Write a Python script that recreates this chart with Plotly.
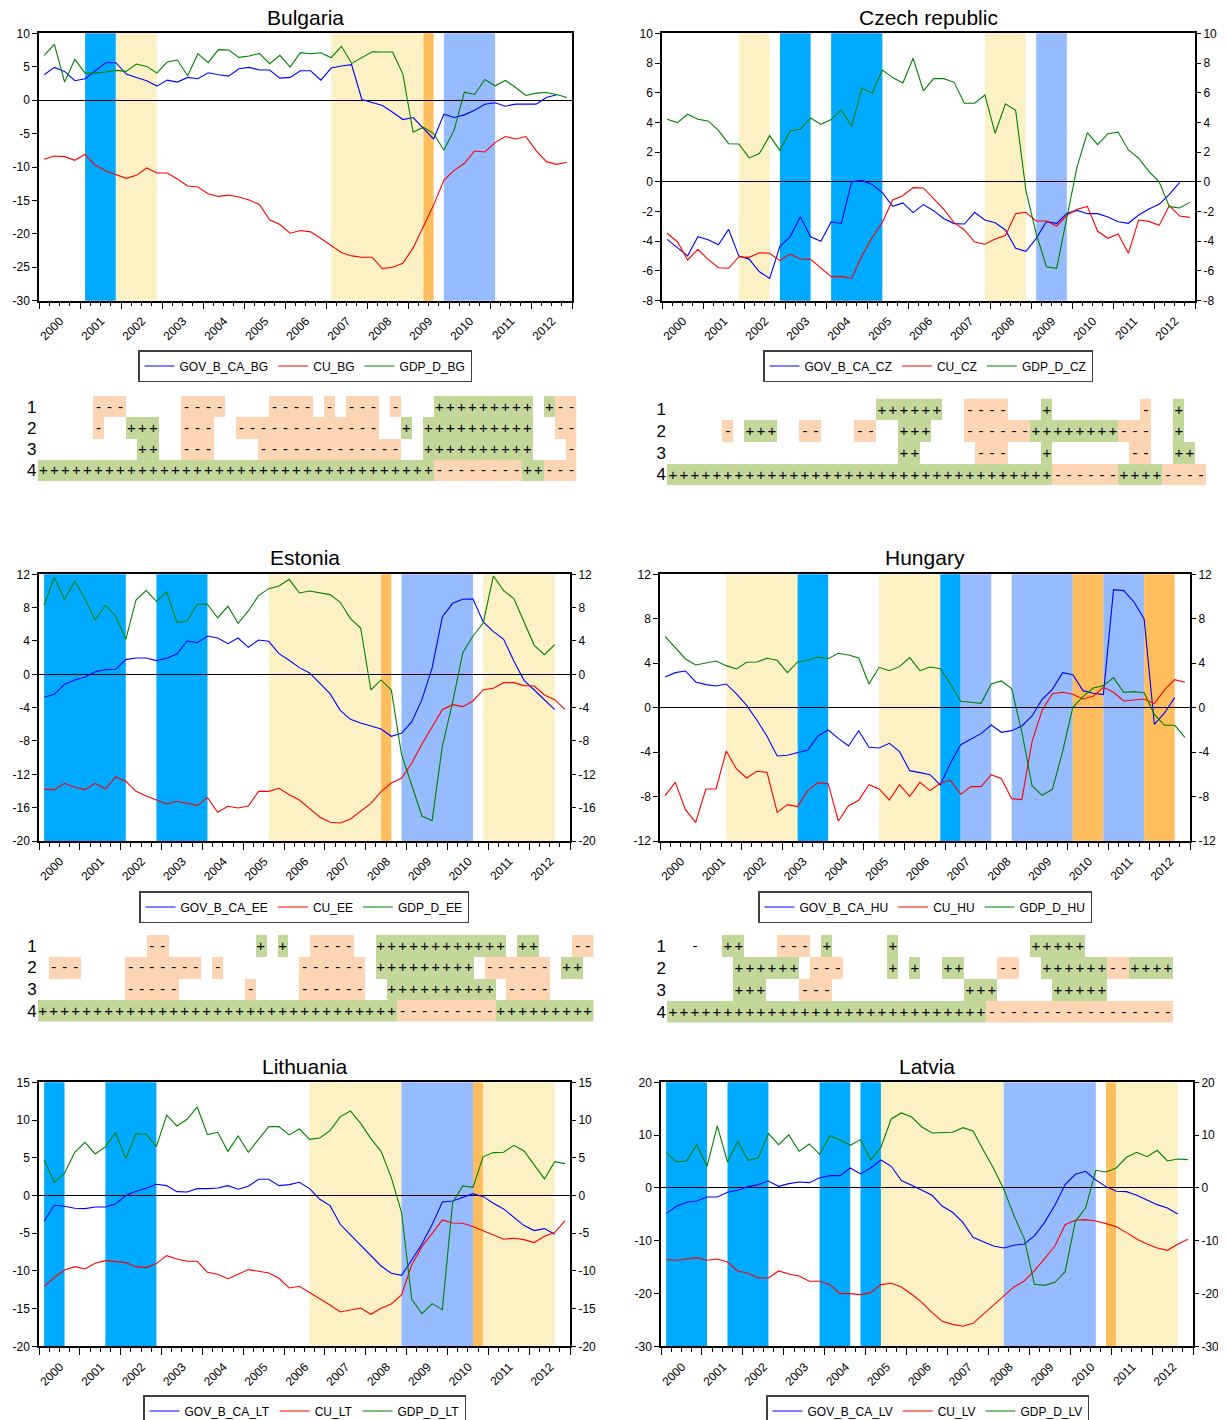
import plotly.graph_objects as go

W, H = 1226, 1420          # target picture size
OFF = 8                    # page body margin of the html page
FW, FH = W - OFF, H - OFF  # figure size so that the figure ends at the window edge
FONT = "Arial, Liberation Sans, sans-serif"

# ---------------- data: quarterly 2000Q1 .. 2012Q4 (52 obs) ----------------
OBS = list(range(52))
YEAR_LABELS = [str(y) for y in range(2000, 2013)] + [""]

GOV_B_CA_BG = [3.8, 4.9, 4.3, 2.9, 3.2, 4.4, 5.6, 5.6, 3.9, 3.4, 2.9, 2.1, 3.0, 2.7, 3.4, 3.2, 4.1, 3.8, 3.6, 4.7,
               4.9, 4.5, 4.5, 3.3, 3.4, 4.4, 4.4, 3.0, 4.8, 5.1, 5.3, 0.1, -0.3, -0.8, -1.8, -2.9, -2.6, -4.2, -5.8, -2.1,
               -2.6, -2.2, -1.5, -0.6, -0.4, -0.9, -0.6, -0.6, -0.6, 0.4, 0.8, None]
CU_BG = [-8.85, -8.35, -8.45, -9.0, -8.1, -9.75, -10.55, -11.15, -11.7, -11.25, -10.15, -10.9, -10.9, -11.8, -12.85,
         -13.0, -14.0, -14.4, -14.2, -14.5, -14.95, -15.6, -17.9, -18.6, -19.9, -19.5, -19.7, -20.7, -21.8, -22.8,
         -23.3, -23.5, -23.5, -25.2, -25.0, -24.4, -22.1, -18.9, -15.7, -12.0, -10.5, -9.45, -7.6, -7.75, -6.35,
         -5.45, -5.8, -5.45, -7.55, -9.2, -9.6, -9.3]
GDP_D_BG = [6.7, 8.35, 2.7, 6.1, 4.05, 4.05, 4.2, 4.45, 4.3, 5.4, 5.05, 4.05, 5.7, 6.0, 3.65, 6.95, 5.6, 7.55, 7.5, 6.4,
            6.6, 7.0, 5.45, 6.7, 4.95, 7.1, 6.95, 7.1, 6.35, 8.05, 5.5, 6.4, 7.25, 7.2, 7.2, 3.9, -4.8, -4.05, -5.0,
            -7.5, -4.45, 1.2, 0.85, 3.1, 2.15, 2.95, 1.9, 0.7, 1.05, 1.15, 0.85, 0.4]

GOV_B_CA_CZ = [-3.87, -4.4, -4.98, -3.69, -3.9, -4.23, -3.2, -5.0, -5.2, -6.05, -6.5, -4.34, -3.7, -2.35, -3.7, -4.0,
               -2.7, -2.8, 0.0, 0.1, -0.17, -0.73, -1.65, -1.42, -2.07, -1.53, -1.94, -2.48, -2.81, -2.84, -2.05,
               -2.57, -2.75, -3.24, -4.47, -4.68, -3.82, -2.68, -2.79, -2.12, -1.92, -2.14, -2.14, -2.37, -2.68, -2.79,
               -2.23, -1.83, -1.51, -0.84, -0.03, None]
CU_CZ = [-3.46, -4.03, -5.26, -4.54, -5.22, -5.78, -5.82, -5.04, -5.08, -4.77, -4.81, -5.3, -4.86, -5.19, -5.22, -5.8,
         -6.38, -6.36, -6.5, -4.99, -3.76, -2.72, -1.22, -0.93, -0.39, -0.41, -1.13, -1.85, -2.75, -3.24, -4.05, -4.2,
         -3.85, -3.62, -2.14, -2.05, -2.63, -2.63, -2.97, -2.25, -1.85, -1.65, -3.33, -3.8, -3.51, -4.81, -2.57,
         -2.66, -2.93, -1.6, -2.3, -2.39]
GDP_D_CZ = [4.21, 3.99, 4.55, 4.21, 4.1, 3.47, 2.57, 2.55, 1.61, 1.9, 3.11, 2.12, 3.42, 3.56, 4.3, 3.87, 4.19, 4.84,
            3.74, 6.32, 5.98, 7.53, 7.02, 6.66, 8.32, 6.12, 6.95, 6.95, 6.7, 5.29, 5.29, 5.85, 3.27, 5.26, 4.82, -0.57,
            -3.46, -5.71, -5.82, -2.52, 1.02, 3.31, 2.5, 3.24, 3.35, 2.15, 1.6, 0.71, 0.0, -1.67, -1.76, -1.38]

GOV_B_CA_EE = [-2.76, -2.4, -1.2, -0.68, -0.32, 0.32, 0.56, 0.6, 1.76, 1.96, 1.96, 1.64, 1.92, 2.44, 4.0, 3.8, 4.6,
               4.36, 3.68, 4.36, 3.24, 4.12, 3.96, 2.48, 1.68, 0.8, 0.16, -1.08, -2.32, -4.32, -5.4, -5.84, -6.2,
               -6.56, -7.44, -7.08, -5.72, -3.04, 0.76, 6.88, 8.52, 9.0, 9.04, 6.28, 5.12, 4.2, 1.6, -0.72, -1.88,
               -3.08, -4.24, None]
CU_EE = [-13.8, -13.84, -13.08, -13.56, -13.84, -13.08, -13.76, -12.32, -12.84, -14.04, -14.6, -15.04, -15.56, -15.24,
         -15.44, -15.72, -14.8, -16.56, -15.84, -16.04, -15.8, -14.04, -14.04, -13.68, -14.44, -15.08, -16.12, -17.12,
         -17.76, -17.84, -17.36, -16.44, -15.48, -14.08, -13.04, -12.48, -10.68, -8.36, -6.28, -4.24, -3.64, -3.88,
         -3.2, -1.84, -1.68, -1.0, -1.0, -1.36, -1.4, -2.48, -3.04, -4.2]
GDP_D_EE = [8.32, 11.6, 9.0, 11.16, 9.08, 6.52, 8.28, 7.0, 4.2, 8.92, 10.04, 8.76, 9.88, 6.24, 6.4, 8.4, 8.4, 6.76, 8.16,
            6.12, 7.6, 9.44, 10.28, 10.6, 11.4, 9.76, 10.0, 9.8, 9.56, 8.64, 6.68, 5.56, -1.88, -0.68, -1.88, -9.6,
            -13.24, -17.0, -17.56, -8.6, -3.4, 2.6, 4.6, 6.16, 11.8, 10.04, 9.08, 6.32, 3.48, 2.36, 3.56, None]

GOV_B_CA_HU = [2.76, 3.15, 3.3, 2.31, 2.07, 1.95, 2.13, 1.23, 0.21, -1.11, -2.58, -4.35, -4.29, -4.05, -3.81, -2.55,
               -2.01, -2.76, -3.45, -2.07, -3.57, -3.63, -3.21, -3.96, -5.67, -5.85, -6.03, -6.96, -5.01, -3.33, -2.82,
               -2.34, -1.56, -2.22, -2.07, -1.65, -0.75, 0.75, 1.65, 3.15, 2.97, 1.53, 1.29, 1.17, 10.62, 10.53, 9.51,
               7.98, -1.5, -0.48, 0.9, None]
CU_HU = [-7.92, -6.72, -9.18, -10.32, -7.32, -7.32, -3.9, -5.52, -6.33, -5.73, -5.82, -9.42, -8.73, -8.91, -7.47, -6.75,
         -6.84, -10.2, -8.82, -8.34, -6.93, -7.32, -8.31, -6.93, -7.98, -6.72, -7.47, -6.81, -6.54, -7.8, -7.11, -7.11,
         -6.03, -6.39, -8.19, -8.28, -3.06, -0.21, 1.26, 1.38, 1.2, 0.78, 1.02, 1.83, 1.38, 0.6, 0.69, 0.78, 0.36,
         1.59, 2.52, 2.28]
GDP_D_HU = [6.42, 5.43, 4.38, 3.84, 4.02, 4.2, 3.78, 3.48, 4.08, 4.11, 4.44, 4.26, 3.15, 4.11, 4.26, 4.56, 4.41, 4.89,
            4.74, 4.47, 2.13, 3.63, 3.33, 3.69, 4.5, 3.33, 3.66, 3.51, 2.13, 0.57, 0.48, 0.39, 2.13, 2.4, 1.71, -2.19,
            -7.02, -7.89, -7.35, -3.96, 0.03, 0.99, 1.77, 1.98, 2.7, 1.38, 1.44, 1.35, -0.6, -1.59, -1.59, -2.67]

GOV_B_CA_LT = [-3.38, -1.31, -1.44, -1.7, -1.75, -1.53, -1.53, -1.13, -0.02, 0.55, 0.95, 1.48, 1.3, 0.5, 0.46, 0.9, 0.9,
               0.99, 1.3, 0.82, 1.21, 2.14, 2.14, 1.3, 1.43, 1.74, 0.9, -0.51, -1.35, -3.82, -5.24, -6.65, -8.02,
               -9.35, -10.32, -10.59, -8.55, -6.43, -3.87, -0.86, -0.73, -0.2, 0.24, -0.16, -1.04, -1.79, -2.85, -4.0,
               -4.66, -4.4, -5.15, None]
CU_LT = [-12.09, -10.85, -9.88, -9.44, -9.75, -9.0, -8.64, -8.82, -8.91, -9.44, -9.57, -9.04, -7.98, -8.42, -8.73,
         -8.73, -10.19, -10.45, -11.03, -10.45, -9.83, -10.05, -10.28, -10.98, -12.26, -12.04, -12.84, -13.68, -14.52,
         -15.45, -15.14, -14.92, -15.76, -14.96, -14.39, -13.19, -9.22, -6.79, -5.02, -3.25, -3.65, -3.69, -4.13,
         -4.66, -5.24, -5.81, -5.68, -5.86, -6.25, -5.42, -4.93, -3.38]
GDP_D_LT = [4.7, 1.74, 2.94, 5.72, 7.05, 5.5, 6.43, 8.33, 4.88, 8.19, 8.11, 6.47, 10.67, 9.21, 10.1, 11.73, 8.06, 8.37,
            5.85, 7.89, 5.72, 7.44, 9.12, 9.12, 8.02, 8.81, 7.44, 7.62, 8.59, 10.45, 11.2, 9.56, 7.53, 5.85, 2.36, -2.23,
            -13.77, -15.67, -14.34, -15.14, -0.95, 1.26, 1.08, 5.15, 5.68, 5.72, 6.65, 5.9, 4.04, 2.19, 4.48, 4.22]

GOV_B_CA_LV = [-4.87, -3.48, -2.73, -2.47, -1.72, -1.72, -0.83, -0.45, 0.24, 0.62, 1.31, 0.3, 0.81, 1.12, 1.0, 1.94,
               2.32, 2.32, 3.77, 2.64, 3.77, 5.29, 4.09, 1.38, 0.49, -0.45, -1.4, -3.48, -4.62, -6.52, -9.36, -10.18,
               -11.0, -11.38, -10.87, -10.62, -9.1, -6.52, -3.3, 0.62, 2.58, 3.14, 1.5, 0.24, -0.64, -0.71, -1.4, -2.29,
               -3.17, -3.8, -4.94, None]
CU_LV = [-13.59, -13.71, -13.46, -13.21, -13.71, -13.46, -14.03, -15.73, -16.17, -17.06, -17.06, -15.73, -16.3, -16.68,
         -17.69, -17.69, -18.32, -20.03, -20.03, -20.21, -19.84, -18.32, -18.07, -18.76, -20.15, -21.67, -23.62,
         -25.27, -25.84, -26.21, -25.65, -23.94, -22.36, -20.47, -18.76, -17.63, -15.67, -13.4, -11.0, -6.96, -6.14,
         -6.01, -6.26, -6.77, -7.34, -8.47, -9.67, -10.62, -11.38, -11.82, -10.68, -9.73]
GDP_D_LV = [6.68, 4.97, 5.1, 8.19, 4.09, 11.73, 4.91, 8.83, 5.23, 5.67, 10.28, 8.19, 10.03, 6.93, 8.32, 6.36, 9.9, 9.08,
            8.07, 9.14, 5.29, 7.69, 13.06, 14.19, 13.43, 11.54, 10.4, 10.53, 10.53, 11.41, 10.78, 7.18, 3.71, -0.2,
            -5.25, -9.6, -18.26, -18.45, -17.88, -15.86, -6.33, -3.8, 3.33, 3.02, 3.77, 5.8, 6.74, 5.92, 7.12, 5.1,
            5.48, 5.35]

# shaded regimes: (first obs, last obs, kind)  B=blue, L=light blue, Y=yellow, O=orange
BANDS_BG = [(4, 7, "B"), (7, 11, "Y"), (28, 37, "Y"), (37, 38, "O"), (39, 44, "L")]
BANDS_CZ = [(7, 10, "Y"), (11, 14, "B"), (16, 21, "B"), (31, 35, "Y"), (36, 39, "L")]
BANDS_EE = [(0, 8, "B"), (11, 16, "B"), (22, 33, "Y"), (33, 34, "O"), (35, 42, "L"), (43, 50, "Y")]
BANDS_HU = [(6, 13, "Y"), (13, 16, "B"), (21, 27, "Y"), (27, 29, "B"), (29, 32, "L"), (34, 40, "L"), (40, 43, "O"),
            (43, 47, "L"), (47, 50, "O")]
BANDS_LT = [(0, 2, "B"), (6, 11, "B"), (26, 35, "Y"), (35, 42, "L"), (42, 43, "O"), (43, 50, "Y")]
BANDS_LV = [(0, 4, "B"), (6, 10, "B"), (15, 18, "B"), (19, 21, "B"), (21, 33, "Y"), (33, 42, "L"), (43, 44, "O"),
            (44, 50, "Y")]

# sign tables ('+' positive, '-' negative, '~' unshaded minus, ' ' empty)
TABLE_BG = [
    "     ---     ----    ---- - --- -   +++++++++ +--",
    "     -  +++  ---  -------------  + ++++++++++  --",
    "         ++  ---    -------------  ++++++++++   -",
    "++++++++++++++++++++++++++++++++++++--------++---",
]
TABLE_CZ = [
    "                   ++++++  ----   +        -  +  ",
    "     - +++  --   --  +++   ------++++++++---  +  ",
    "                     ++     ---   +       --  ++ ",
    "+++++++++++++++++++++++++++++++++++------++++----",
]
TABLE_EE = [
    "          --        + +  ----  ++++++++++++ ++   --",
    " ---    ------- -       ------ +++++++++ ------ ++ ",
    "        -----      -    ------  ++++++++++ ----    ",
    "+++++++++++++++++++++++++++++++++---------+++++++++",
]
TABLE_HU = [
    "  ~  ++   --- +     +            +++++        ",
    "      ++++++ ---    + +  ++   --  ++++++--++++",
    "      +++   ---            +++     +++++      ",
    "+++++++++++++++++++++++++++++-----------------",
]

BAND_COLORS = {"B": "#00AAFF", "L": "#96BBFF", "Y": "#FBF1C4", "O": "#FFBE5E"}
LINE_COLORS = ["#0000FF", "#FF0000", "#008000"]

# ---------------- layout geometry (window pixels) ----------------
PANELS = [
    dict(title="Bulgaria", code="BG", series=[GOV_B_CA_BG, CU_BG, GDP_D_BG], bands=BANDS_BG,
         yr=(-30, 10), dt=5, right=False, box=(39, 572, 33.3, 300.7), ty=17, leg=(305, 366)),
    dict(title="Czech republic", code="CZ", series=[GOV_B_CA_CZ, CU_CZ, GDP_D_CZ], bands=BANDS_CZ,
         yr=(-8, 10), dt=2, right=True, box=(662, 1195, 33.3, 300.7), ty=17, leg=(928, 366)),
    dict(title="Estonia", code="EE", series=[GOV_B_CA_EE, CU_EE, GDP_D_EE], bands=BANDS_EE,
         yr=(-20, 12), dt=4, right=True, box=(39, 570, 574.3, 841), ty=557, leg=(304, 907)),
    dict(title="Hungary", code="HU", series=[GOV_B_CA_HU, CU_HU, GDP_D_HU], bands=BANDS_HU,
         yr=(-12, 12), dt=4, right=True, box=(660, 1190, 574.3, 841), ty=557, leg=(925, 907)),
    dict(title="Lithuania", code="LT", series=[GOV_B_CA_LT, CU_LT, GDP_D_LT], bands=BANDS_LT,
         yr=(-20, 15), dt=5, right=True, box=(39, 570, 1082.3, 1346.3), ty=1066, leg=(304.5, 1411)),
    dict(title="Latvia", code="LV", series=[GOV_B_CA_LV, CU_LV, GDP_D_LV], bands=BANDS_LV,
         yr=(-30, 20), dt=10, right=True, box=(661, 1193, 1082.3, 1346.3), ty=1066, leg=(927.5, 1411)),
]
TABLES = [
    dict(rows=TABLE_BG, box=(37.5, 576.5, 396, 481)),
    dict(rows=TABLE_CZ, box=(667, 1206, 398.5, 485)),
    dict(rows=TABLE_EE, box=(37.7, 593.6, 935, 1021.5)),
    dict(rows=TABLE_HU, box=(667, 1173, 935, 1022.5)),
]


def px(x):
    return (x - OFF) / FW


def py(y):
    return 1 - (y - OFF) / FH


counters = {"x": 0, "y": 0}


def new_axis(kind):
    counters[kind] += 1
    n = counters[kind]
    sfx = "" if n == 1 else str(n)
    return kind + "axis" + sfx, kind + sfx


lay = dict(width=FW, height=FH, autosize=False, margin=dict(l=0, r=0, t=0, b=0, autoexpand=False),
           plot_bgcolor="white", paper_bgcolor="white",
           font=dict(family=FONT, color="black", size=12), showlegend=True)
traces, shapes, annotations = [], [], []

for i, p in enumerate(PANELS):
    xa, xr = new_axis("x")
    ya, yr = new_axis("y")
    x0, x1, top, bot = p["box"]
    lo, hi = p["yr"]
    yticks = list(range(lo, hi + 1, p["dt"]))
    ylabels = [str(v) for v in yticks]
    lay[xa] = dict(domain=[px(x0), px(x1)], anchor=yr, range=[-0.5, 51.5],
                   tickmode="array", tickvals=[4 * k - 0.5 for k in range(14)], ticktext=YEAR_LABELS,
                   tickangle=-45, ticks="outside", ticklen=7, tickwidth=1, tickcolor="black",
                   ticklabelshift=21, tickfont=dict(size=12),
                   minor=dict(tickmode="linear", tick0=-0.5, dtick=1, ticks="outside", ticklen=4,
                              tickwidth=1, tickcolor="black", showgrid=False),
                   showline=True, mirror=True, linecolor="black", linewidth=1.5,
                   showgrid=False, zeroline=False, fixedrange=True)
    lay[ya] = dict(domain=[py(bot), py(top)], anchor=xr, range=[lo, hi],
                   tickmode="array", tickvals=yticks, ticktext=ylabels, ticks="outside", ticklen=5,
                   tickwidth=1, tickcolor="black", tickfont=dict(size=12),
                   showline=True, mirror=True, linecolor="black", linewidth=1.5,
                   showgrid=False, zeroline=True, zerolinecolor="black", zerolinewidth=1.2,
                   fixedrange=True)
    lg = "legend" if i == 0 else "legend%d" % (i + 1)
    names = ["GOV_B_CA_" + p["code"], "CU_" + p["code"], "GDP_D_" + p["code"]]
    for name, vals, col in zip(names, p["series"], LINE_COLORS):
        traces.append(go.Scatter(x=OBS, y=vals, mode="lines", name=name, xaxis=xr, yaxis=yr,
                                 legend=lg, line=dict(color=col, width=1.1), hoverinfo="skip"))
    if p["right"]:
        ya2, yr2 = new_axis("y")
        lay[ya2] = dict(overlaying=yr, side="right", anchor=xr, range=[lo, hi],
                        tickmode="array", tickvals=yticks, ticktext=ylabels, ticks="outside", ticklen=5,
                        tickwidth=1, tickcolor="black", tickfont=dict(size=12),
                        showline=False, showgrid=False, zeroline=False, fixedrange=True)
        # transparent copy so the right-hand scale is drawn
        traces.append(go.Scatter(x=OBS, y=p["series"][2], mode="lines", xaxis=xr, yaxis=yr2,
                                 showlegend=False, opacity=0, line=dict(width=0.1), hoverinfo="skip"))
    for a, b, kind in p["bands"]:
        shapes.append(dict(type="rect", xref=xr, yref=yr + " domain", x0=a, x1=b, y0=0, y1=1,
                           fillcolor=BAND_COLORS[kind], line=dict(width=0), layer="below"))
    lx, ly = p["leg"]
    lay[lg] = dict(orientation="h", x=px(lx), y=py(ly), xanchor="center", yanchor="middle",
                   bordercolor="#404040", borderwidth=1.5, bgcolor="white",
                   font=dict(size=12, family=FONT), itemwidth=30, traceorder="normal")
    annotations.append(dict(text=p["title"], x=px((x0 + x1) / 2), y=py(p["ty"]), xref="paper",
                            yref="paper", showarrow=False, xanchor="center", yanchor="middle",
                            font=dict(size=21, family=FONT)))

SIGN_Z = {"+": 1, "-": -1, "~": 0, " ": 0}
SIGN_T = {"+": "+", "-": "-", "~": "-", " ": ""}
CELL_SCALE = [[0, "#FCD5B4"], [0.33, "#FCD5B4"], [0.33, "#FFFFFF"], [0.67, "#FFFFFF"],
              [0.67, "#C4D79B"], [1, "#C4D79B"]]

for tb in TABLES:
    xa, xr = new_axis("x")
    ya, yr = new_axis("y")
    rows = tb["rows"]
    n = max(len(r) for r in rows)
    rows = [r.ljust(n) for r in rows]
    z = [[SIGN_Z[c] for c in r] for r in rows]
    txt = [[SIGN_T[c] for c in r] for r in rows]
    traces.append(go.Heatmap(z=z, text=txt, texttemplate="%{text}",
                             textfont=dict(size=15, color="black", family=FONT),
                             x=list(range(n)), y=[1, 2, 3, 4], xaxis=xr, yaxis=yr,
                             colorscale=CELL_SCALE, zmin=-1, zmax=1, showscale=False,
                             hoverinfo="skip", xgap=0, ygap=0))
    x0, x1, top, bot = tb["box"]
    lay[xa] = dict(domain=[px(x0), px(x1)], anchor=yr, range=[-0.5, n - 0.5], visible=False,
                   fixedrange=True)
    lay[ya] = dict(domain=[py(bot), py(top)], anchor=xr, range=[4.5, 0.5],
                   tickmode="array", tickvals=[1, 2, 3, 4], ticktext=["1", "2", "3", "4"],
                   ticks="", showline=False, showgrid=False, zeroline=False,
                   tickfont=dict(size=17, family=FONT), fixedrange=True)

lay["shapes"] = shapes
lay["annotations"] = annotations
fig = go.Figure(data=traces, layout=lay)
fig.write_html("out.html")
